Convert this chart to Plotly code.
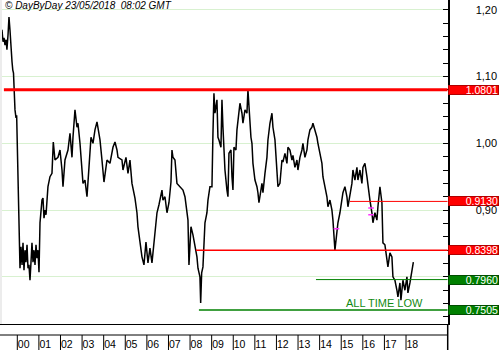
import plotly.graph_objects as go

# ---- data -----------------------------------------------------------------
years = list(range(2000, 2019))
year_labels = [f"{y % 100:02d}" for y in years]

dates = [
    1999.200, 1999.245, 1999.290, 1999.340, 1999.385, 1999.430, 1999.480, 1999.520,
    1999.570, 1999.615, 1999.660, 1999.710, 1999.755, 1999.790, 1999.824, 1999.893,
    1999.940, 1999.970, 2000.009, 2000.046, 2000.080, 2000.125, 2000.170, 2000.220,
    2000.264, 2000.310, 2000.356, 2000.400, 2000.450, 2000.495, 2000.540, 2000.588,
    2000.634, 2000.680, 2000.727, 2000.773, 2000.820, 2000.866, 2000.912, 2000.958,
    2001.005, 2001.051, 2001.143, 2001.190, 2001.236, 2001.282, 2001.330, 2001.420,
    2001.514, 2001.606, 2001.667, 2001.745, 2001.884, 2001.977, 2002.070, 2002.116,
    2002.208, 2002.347, 2002.440, 2002.532, 2002.579, 2002.671, 2002.764, 2002.810,
    2002.903, 2002.995, 2003.042, 2003.134, 2003.227, 2003.319, 2003.412, 2003.505,
    2003.597, 2003.690, 2003.829, 2003.921, 2004.014, 2004.153, 2004.291, 2004.430,
    2004.523, 2004.616, 2004.662, 2004.847, 2004.893, 2005.032, 2005.125, 2005.217,
    2005.310, 2005.449, 2005.541, 2005.588, 2005.680, 2005.773, 2005.865, 2005.958,
    2006.051, 2006.143, 2006.236, 2006.282, 2006.375, 2006.468, 2006.560, 2006.699,
    2006.745, 2006.838, 2006.931, 2007.023, 2007.116, 2007.162, 2007.208, 2007.301,
    2007.393, 2007.532, 2007.671, 2007.764, 2007.856, 2007.903, 2007.949, 2008.042,
    2008.134, 2008.227, 2008.319, 2008.366, 2008.458, 2008.491, 2008.537, 2008.597,
    2008.690, 2008.782, 2008.829, 2008.921, 2009.014, 2009.060, 2009.106, 2009.153,
    2009.245, 2009.291, 2009.338, 2009.430, 2009.477, 2009.523, 2009.616, 2009.708,
    2009.755, 2009.801, 2009.894, 2009.940, 2009.986, 2010.032, 2010.125, 2010.171,
    2010.218, 2010.310, 2010.403, 2010.449, 2010.542, 2010.634, 2010.680, 2010.727,
    2010.819, 2010.866, 2010.912, 2011.005, 2011.097, 2011.143, 2011.190, 2011.329,
    2011.375, 2011.468, 2011.560, 2011.606, 2011.699, 2011.792, 2011.838, 2011.931,
    2012.023, 2012.069, 2012.162, 2012.255, 2012.301, 2012.394, 2012.486, 2012.532,
    2012.625, 2012.718, 2012.764, 2012.856, 2012.949, 2012.995, 2013.088, 2013.180,
    2013.227, 2013.319, 2013.412, 2013.458, 2013.551, 2013.643, 2013.690, 2013.782,
    2013.875, 2013.921, 2014.014, 2014.106, 2014.153, 2014.245, 2014.338, 2014.384,
    2014.477, 2014.569, 2014.616, 2014.708, 2014.801, 2014.847, 2014.940, 2015.032,
    2015.079, 2015.171, 2015.264, 2015.310, 2015.403, 2015.495, 2015.542, 2015.634,
    2015.727, 2015.773, 2015.866, 2015.958, 2016.005, 2016.097, 2016.190, 2016.236,
    2016.329, 2016.421, 2016.468, 2016.560, 2016.653, 2016.699, 2016.792, 2016.884,
    2016.931, 2017.023, 2017.116, 2017.162, 2017.255, 2017.347, 2017.394, 2017.486,
    2017.579, 2017.625, 2017.718, 2017.764, 2017.857, 2017.949, 2018.042, 2018.088,
    2018.181, 2018.273, 2018.340,
]

prices = [
    1.174, 1.162, 1.170, 1.152, 1.158, 1.147, 1.155, 1.140,
    1.162, 1.189, 1.170, 1.132, 1.122, 1.110, 1.105, 1.050,
    1.038, 1.042, 0.975, 0.915, 0.840, 0.813, 0.845, 0.818,
    0.851, 0.810, 0.840, 0.822, 0.848, 0.813, 0.818, 0.795,
    0.822, 0.851, 0.822, 0.840, 0.818, 0.848, 0.828, 0.840,
    0.807, 0.881, 0.915, 0.918, 0.888, 0.900, 0.893, 0.935,
    0.950, 0.955, 1.002, 0.975, 0.979, 0.990, 0.960, 0.935,
    0.975, 0.990, 1.015, 0.979, 1.009, 1.050, 1.024, 1.030,
    1.000, 0.950, 0.940, 0.945, 0.920, 0.964, 1.009, 1.000,
    1.020, 1.032, 1.005, 0.975, 0.942, 0.975, 0.970, 0.994,
    1.002, 0.990, 0.979, 0.975, 0.960, 0.979, 0.955, 0.975,
    0.940, 0.918, 0.896, 0.875, 0.851, 0.830, 0.818, 0.852,
    0.821, 0.843, 0.821, 0.836, 0.870, 0.896, 0.908, 0.930,
    0.915, 0.920, 0.896, 0.911, 0.942, 0.990, 0.979, 0.975,
    0.940, 0.935, 0.930, 0.920, 0.900, 0.885, 0.818, 0.875,
    0.863, 0.848, 0.830, 0.813, 0.800, 0.761, 0.806, 0.815,
    0.881, 0.896, 0.915, 0.935, 0.935, 1.015, 1.075, 1.045,
    1.065, 1.009, 1.005, 0.994, 1.065, 1.024, 0.960, 0.930,
    0.920, 0.985, 0.990, 0.950, 0.930, 0.994, 0.990, 1.020,
    1.035, 1.060, 1.045, 1.030, 1.050, 1.045, 1.080, 1.050,
    1.009, 1.000, 0.970, 0.945, 0.935, 0.926, 0.911, 0.940,
    0.926, 0.955, 0.979, 1.005, 1.030, 1.045, 1.024, 1.005,
    0.955, 0.935, 0.940, 0.975, 0.972, 0.985, 0.970, 0.994,
    0.990, 0.975, 0.982, 0.964, 0.975, 0.960, 0.979, 0.990,
    1.000, 0.979, 0.990, 1.005, 1.020, 1.024, 1.030, 1.020,
    1.009, 1.000, 0.985, 0.970, 0.950, 0.935, 0.920, 0.905,
    0.915, 0.900, 0.885, 0.840, 0.870, 0.881, 0.896, 0.915,
    0.926, 0.935, 0.920, 0.905, 0.926, 0.940, 0.960, 0.945,
    0.964, 0.945, 0.960, 0.940, 0.964, 0.970, 0.950, 0.935,
    0.915, 0.896, 0.881, 0.896, 0.885, 0.905, 0.935, 0.911,
    0.851, 0.848, 0.825, 0.815, 0.836, 0.830, 0.800, 0.795,
    0.780, 0.770, 0.791, 0.765, 0.795, 0.780, 0.800, 0.776,
    0.791, 0.806, 0.822,
]

# value-axis gridlines and their labels (0,80 sits under the 0.7960 tag)
grid_values = [0.8, 0.9, 1.0, 1.1, 1.2]
grid_labels = ["", "0,90", "1,00", "1,10", "1,20"]

# horizontal support / resistance levels and the date each one starts from
level_values = [1.0801, 0.9130, 0.8398, 0.7960, 0.7505]
level_starts = [1999.38, 2015.40, 2008.27, 2013.83, 2008.41]

# small event marks on the price line
event_dates = [2014.78, 2016.38, 2016.38]
event_values = [0.872, 0.903, 0.893]

low_label_date, low_label_value = 2016.99, 0.7614

# ---- styling --------------------------------------------------------------
level_colors = ["#ff0000", "#ff0000", "#ff0000", "#008000", "#008000"]
level_widths = [3, 1, 1.5, 1, 1.5]
box_fill = ["#ff0000", "#ff0000", "#ff0000", "#008000", "#008000"]
box_edge = ["#b00000", "#b00000", "#b00000", "#004d00", "#004d00"]

FONT = "Liberation Sans, Arial, sans-serif"
X_MIN, X_MAX = 1999.199, 2019.93
Y_MIN, Y_MAX = 0.7295, 1.2145
X_END = 447.7 / 500          # right edge of the plotting area (paper)
Y_BOTTOM = 26 / 350          # bottom of the plotting area (paper)
BAND = 15 / 350              # top of the year-label row (paper)

fig = go.Figure()

fig.add_trace(go.Scatter(
    x=dates, y=prices, mode="lines",
    line=dict(color="black", width=1.5),
    hoverinfo="skip", showlegend=False,
))

fig.add_trace(go.Scatter(
    x=event_dates, y=event_values, mode="markers",
    marker=dict(symbol="line-ew", size=4, line=dict(color="#ff33ff", width=1.5)),
    hoverinfo="skip", showlegend=False,
))

shapes = []
for v, start, col, w in zip(level_values, level_starts, level_colors, level_widths):
    shapes.append(dict(type="line", xref="x", yref="y", x0=start, x1=X_MAX,
                       y0=v, y1=v, line=dict(color=col, width=w), layer="above"))

# year separators in the label row
for y in years:
    shapes.append(dict(type="line", xref="x", yref="paper", x0=y, x1=y,
                       y0=0, y1=BAND, line=dict(color="black", width=1)))
# top of the label row
shapes.append(dict(type="line", xref="paper", yref="paper", x0=0, x1=X_END,
                   y0=BAND, y1=BAND, line=dict(color="black", width=1)))
# value axis carried down through the date rows
shapes.append(dict(type="line", xref="paper", yref="paper", x0=X_END, x1=X_END,
                   y0=0, y1=Y_BOTTOM, line=dict(color="black", width=1.5)))
# faint left frame
shapes.append(dict(type="line", xref="paper", yref="paper", x0=0.002, x1=0.002,
                   y0=Y_BOTTOM, y1=1, line=dict(color="#ececec", width=2)))

annotations = []
for v, fill, edge in zip(level_values, box_fill, box_edge):
    annotations.append(dict(
        xref="paper", yref="y", x=X_END, y=v, xanchor="left", yanchor="middle",
        text=f"{v:.4f}", showarrow=False, align="right",
        font=dict(family=FONT, size=10.5, color="white"),
        bgcolor=fill, bordercolor=edge, borderwidth=1, borderpad=0,
        width=49, height=8,
    ))

annotations.append(dict(
    xref="x", yref="y", x=low_label_date, y=low_label_value,
    text="ALL TIME LOW", showarrow=False,
    font=dict(family=FONT, size=11, color="#128a12"),
))

annotations.append(dict(
    xref="paper", yref="paper", x=3 / 500, y=1 - 6 / 350,
    xanchor="left", yanchor="middle", showarrow=False,
    text="<i>© DayByDay 23/05/2018\u00a0 08:02 GMT</i>",
    font=dict(family=FONT, size=10, color="black"),
))

fig.update_layout(
    width=500, height=350,
    margin=dict(l=0, r=0, t=0, b=0),
    paper_bgcolor="white", plot_bgcolor="white",
    showlegend=False,
    shapes=shapes,
    annotations=annotations,
    xaxis=dict(
        domain=[0, X_END], range=[X_MIN, X_MAX],
        showgrid=False, zeroline=False,
        showline=True, linecolor="black", linewidth=1,
        tickmode="array", tickvals=years, ticktext=year_labels,
        ticks="", ticklabelposition="outside right", ticklabelstandoff=10,
        tickfont=dict(family=FONT, size=10.5, color="black"),
    ),
    yaxis=dict(
        domain=[Y_BOTTOM, 1], range=[Y_MIN, Y_MAX], side="right",
        showline=True, linecolor="black", linewidth=1.5,
        zeroline=False,
        tickmode="array", tickvals=grid_values, ticktext=grid_labels,
        ticks="inside", ticklen=5, tickcolor="black", tickwidth=1,
        showgrid=True, gridcolor="#d8f1d0", gridwidth=1,
        minor=dict(dtick=0.02, tick0=0, ticks="inside", ticklen=5,
                   tickcolor="black", showgrid=False),
        ticklabelstandoff=24,
        tickfont=dict(family=FONT, size=11, color="black"),
    ),
)

fig.write_html("out.html")
